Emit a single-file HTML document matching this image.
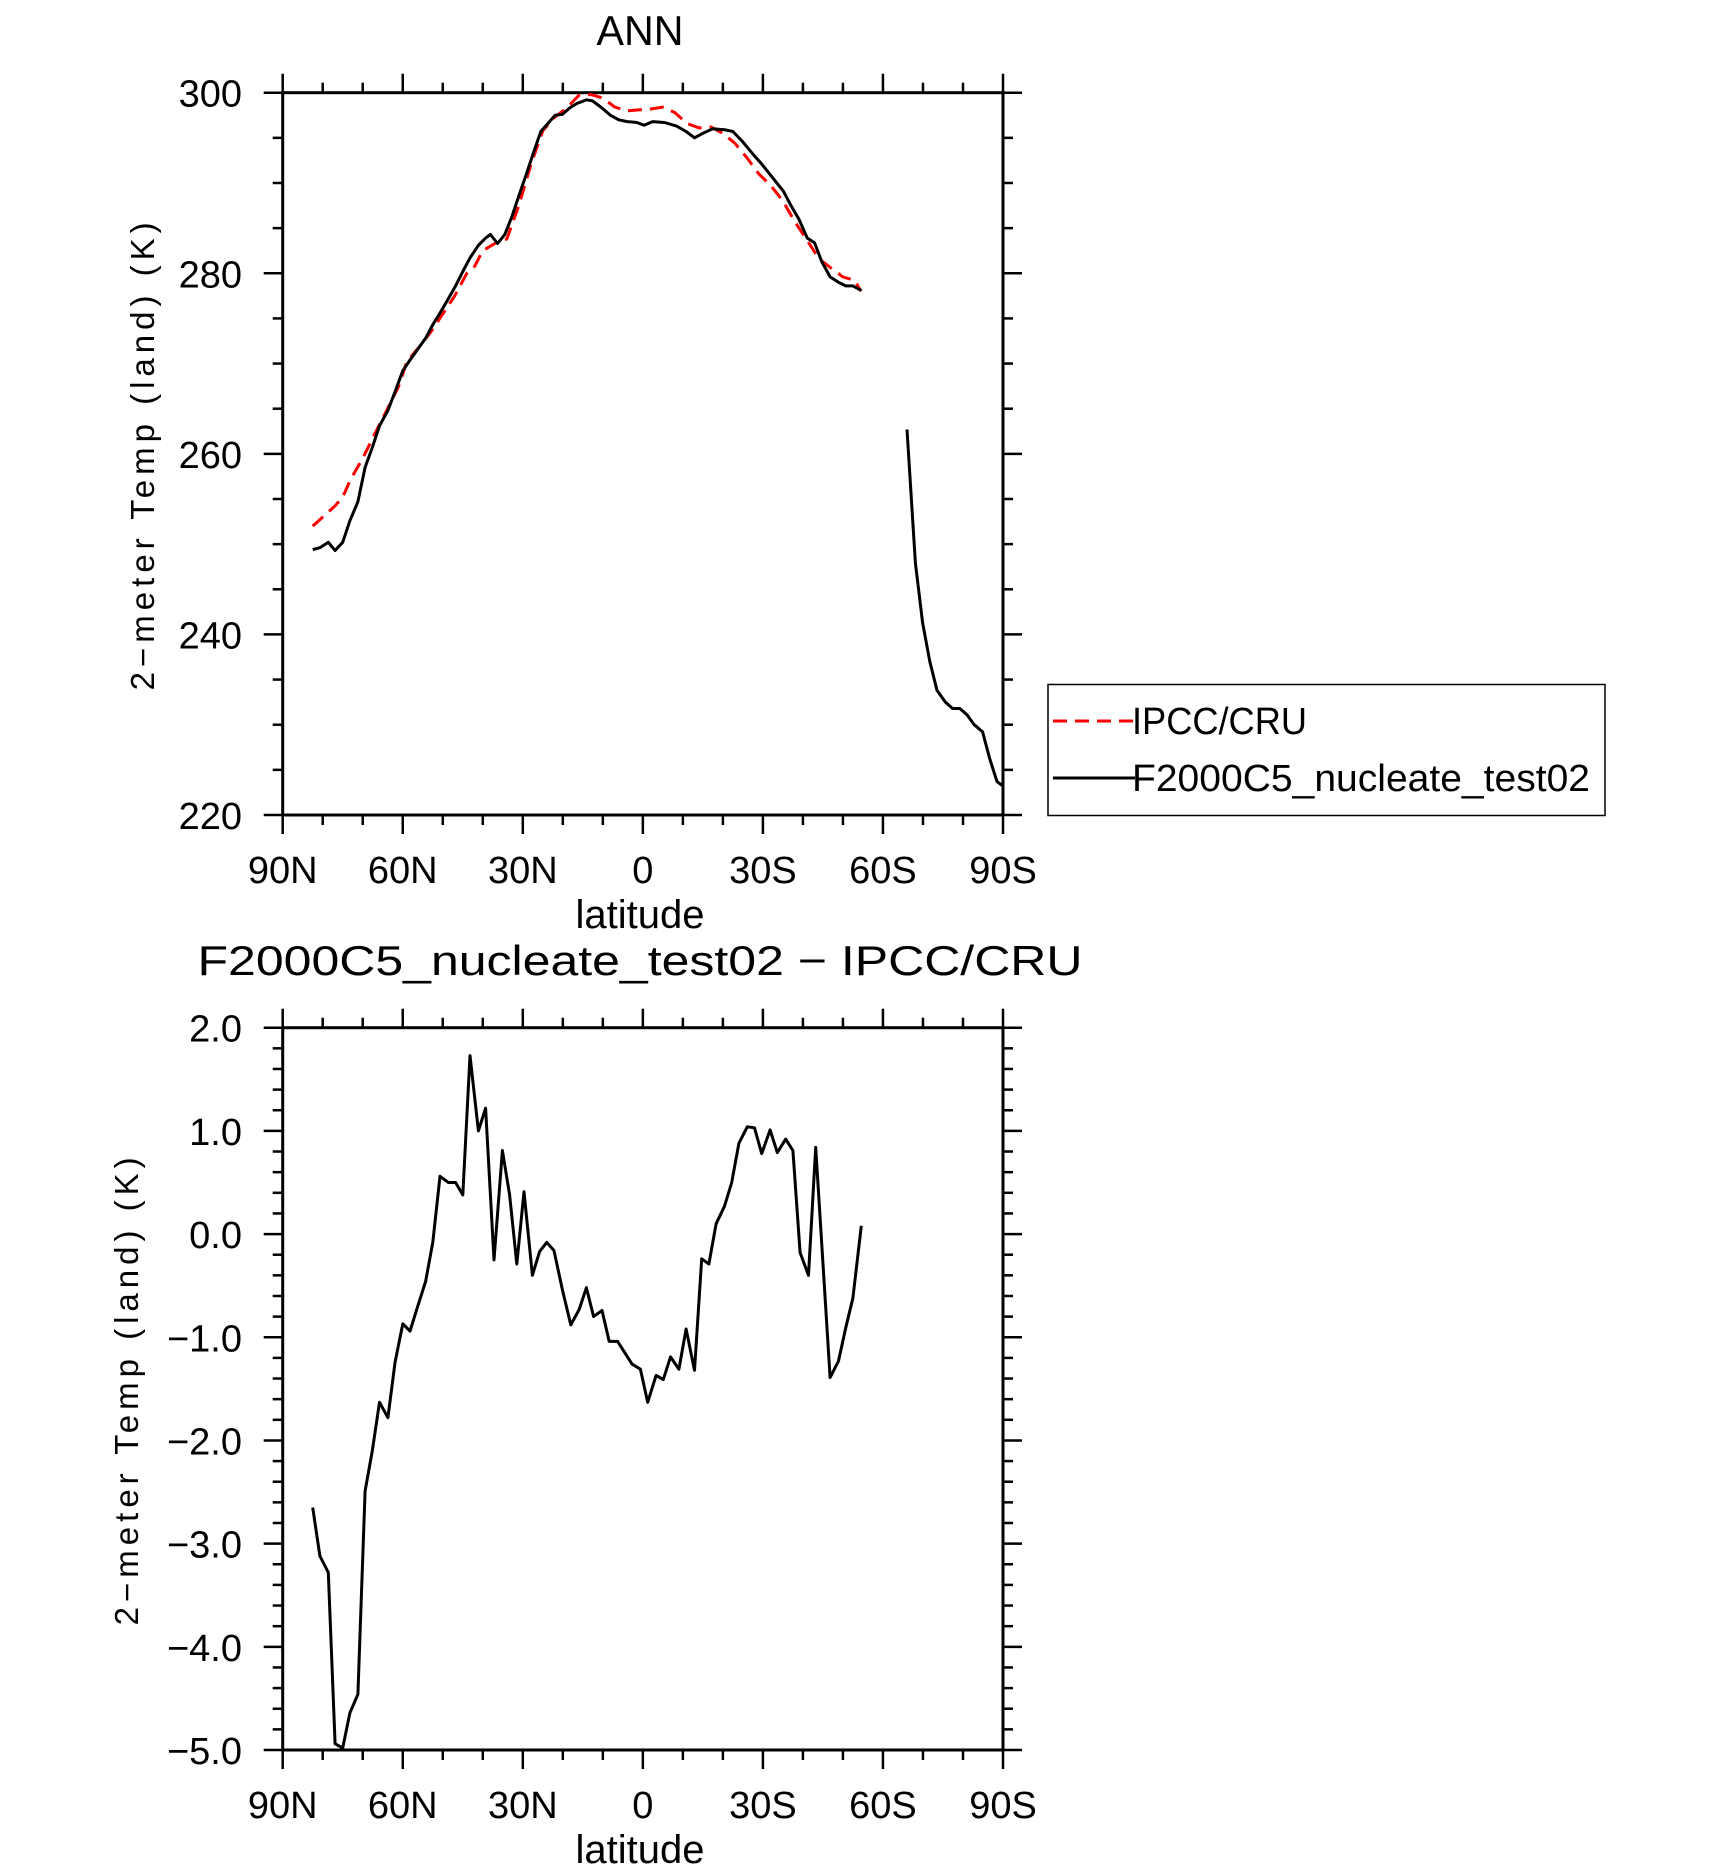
<!DOCTYPE html>
<html><head><meta charset="utf-8"><style>
html,body{margin:0;padding:0;background:#fff;}
svg{display:block;}
text{font-family:"Liberation Sans",sans-serif;fill:#000;}
</style></head><body>
<svg id="chart" width="1710" height="1872" viewBox="0 0 1710 1872" xmlns="http://www.w3.org/2000/svg"></svg>
<script>
// ---- data ----
const modelLat = [82.5,80.7,78.6,76.9,75,73.2,71.2,69.4,67.6,65.8,63.7,61.9,60,58.2,56.1,54.3,52.5,50.7,48.6,46.8,45,43.2,41.1,39.3,38.1,36.3,34.5,32.7,30.9,29.1,27.3,25.5,23.7,21.9,20.1,18.3,16.5,14.1,12.6,10.2,8.1,6,3.9,1.5,-0.3,-2.4,-5.4,-8.4,-10.8,-12.9,-15,-17.4,-20.4,-22.5,-24.9,-27.3,-29.7,-32.4,-35.1,-36.9,-39,-41.1,-42.9,-44.7,-46.8,-48.9,-50.7,-52.5,-54.6];
const modelVal = [249.4,249.6,250.2,249.3,250.2,252.6,254.7,258.5,260.7,263.1,264.8,266.9,269.2,270.4,271.7,272.8,274.3,275.6,277.2,278.6,280.2,281.7,283.1,283.9,284.3,283.3,284.3,286.3,288.7,291.0,293.4,295.7,296.6,297.5,297.6,298.3,298.8,299.2,299.1,298.3,297.5,297.0,296.8,296.7,296.4,296.8,296.7,296.3,295.7,295.0,295.5,296.0,295.9,295.7,294.6,293.3,292.1,290.6,289.1,287.6,286.0,283.9,283.4,281.3,279.6,279.0,278.6,278.6,278.1];
const antLat = [-66,-68.1,-69.9,-71.7,-73.5,-75.6,-77.4,-79.2,-81,-82.8,-84.9,-86.7,-88.5,-90];
const antVal = [262.7,247.9,241.3,237.0,233.8,232.5,231.8,231.8,231.1,230.0,229.2,226.2,223.7,223.2];
const obsLat = [82.5,80,77,75,73,70,67,64,61,59,56,53,50,47,44,42,40,37,34,31,28,25,22,19,16,13,10,7,4,1,-2,-5,-8,-11,-14,-17,-20,-23,-26,-29,-32,-35,-38,-41,-44,-47,-50,-53,-54.5];
const obsVal = [252.0,253.0,254.2,255.2,257.2,259.5,262.2,264.8,267.5,270.2,271.8,273.5,275.5,277.5,280.0,280.8,282.5,283.3,283.8,287.5,292.0,295.8,297.3,298.3,299.7,299.8,299.4,298.4,298.0,298.1,298.2,298.4,297.8,296.6,296.1,296.2,295.5,294.4,292.8,291.0,289.7,288.0,285.7,283.7,281.6,280.6,279.6,279.2,278.0];
const diffLat = [82.5,80.7,78.6,76.9,75,73.2,71.2,69.4,67.6,65.8,63.7,61.9,60,58.2,56.1,54.3,52.5,50.7,48.6,46.8,45,43.2,41.1,39.3,37.2,35.1,33.3,31.5,29.7,27.6,25.8,24,22.2,20.1,18,15.9,14.1,12.3,10.2,8.4,6.3,4.5,2.7,0.6,-1.2,-3.3,-5.1,-6.9,-9,-10.8,-12.9,-14.7,-16.5,-18.3,-20.4,-22.2,-24,-26.1,-27.9,-29.7,-31.8,-33.6,-35.7,-37.5,-39.3,-41.4,-43.2,-46.8,-48.9,-50.7,-52.5,-54.6];
const diffVal = [-2.65,-3.12,-3.28,-4.94,-4.98,-4.64,-4.46,-2.49,-2.10,-1.63,-1.78,-1.24,-0.87,-0.94,-0.68,-0.46,-0.08,0.56,0.50,0.50,0.38,1.73,1.00,1.22,-0.25,0.81,0.38,-0.29,0.41,-0.40,-0.17,-0.08,-0.16,-0.54,-0.88,-0.73,-0.52,-0.80,-0.74,-1.04,-1.04,-1.15,-1.26,-1.31,-1.63,-1.37,-1.41,-1.19,-1.31,-0.92,-1.32,-0.24,-0.29,0.10,0.27,0.50,0.88,1.04,1.03,0.78,1.01,0.79,0.92,0.81,-0.18,-0.40,0.84,-1.39,-1.23,-0.91,-0.62,0.08];
const xTickVals = [90,60,30,0,-30,-60,-90];
const xTickLabels = ["90N","60N","30N","0","30S","60S","90S"];
const topYTicks = [220,240,260,280,300];
const topYLabels = ["220","240","260","280","300"];
const botYTicks = [-5,-4,-3,-2,-1,0,1,2];
const botYLabels = ["\u22125.0","\u22124.0","\u22123.0","\u22122.0","\u22121.0","0.0","1.0","2.0"];

{
const NS="http://www.w3.org/2000/svg";
const svg=document.getElementById('chart');
function mk(tag,attrs,parent){const e=document.createElementNS(NS,tag);for(const k in attrs)e.setAttribute(k,attrs[k]);(parent||svg).appendChild(e);return e;}

const PL=282.7,PR=1003;
function xs(lat){return PL+(90-lat)/180*(PR-PL);}

function drawPanel(name,T,B,ymin,ymax,yTicks,yLabels,minorStep,title,titleY,titleLen,yTitleX){
  const g=mk('g',{});
  
  
  const ys=v=>B-(v-ymin)/(ymax-ymin)*(B-T);
  for(let lat=90;lat>=-90;lat-=10){
    const x=xs(lat);const major=(lat%30===0);const len=major?19:10;
    const t1=mk('line',{x1:x,y1:B,x2:x,y2:B+len,stroke:'#000','stroke-width':2.5},g);
    
    
    const t2=mk('line',{x1:x,y1:T,x2:x,y2:T-len,stroke:'#000','stroke-width':2.5},g);
    
    
  }
  const nMinor=Math.round((ymax-ymin)/minorStep);
  for(let i=0;i<=nMinor;i++){
    const v=ymin+i*minorStep;const y=ys(v);
    const major=yTicks.some(t=>Math.abs(t-v)<1e-6);const len=major?19:10;
    const t1=mk('line',{x1:PL,y1:y,x2:PL-len,y2:y,stroke:'#000','stroke-width':2.5},g);
    
    
    const t2=mk('line',{x1:PR,y1:y,x2:PR+len,y2:y,stroke:'#000','stroke-width':2.5},g);
    
    
  }
  const fr=mk('rect',{x:PL,y:T,width:PR-PL,height:B-T,fill:'none',stroke:'#000','stroke-width':3},g);
  
  
  yTicks.forEach((v,i)=>{
    const t=mk('text',{x:242,y:ys(v)+14,'text-anchor':'end','font-size':38},g);
    t.textContent=yLabels[i];
    
    
  });
  xTickVals.forEach((v,i)=>{
    const t=mk('text',{x:xs(v),y:B+68,'text-anchor':'middle','font-size':38},g);
    t.textContent=xTickLabels[i];
    
    
  });
  const xl=mk('text',{x:640,y:B+113,'text-anchor':'middle','font-size':40},g);
  xl.textContent='latitude';
  
  
  const cy=(T+B)/2;
  const yl=mk('text',{x:yTitleX,y:cy,'text-anchor':'middle','font-size':33,'letter-spacing':5,transform:`rotate(-90 ${yTitleX} ${cy})`},g);
  yl.textContent='2\u2212meter Temp (land) (K)';
  
  
  const tt=mk('text',{x:640,y:titleY,'text-anchor':'middle','font-size':42,textLength:titleLen,lengthAdjust:'spacingAndGlyphs'},g);
  tt.textContent=title;
  
  
  return {g,ys};
}
function drawLine(g,lats,vals,ys,color,dash,name){
  const d=lats.map((la,i)=>(i?'L':'M')+xs(la).toFixed(1)+','+ys(vals[i]).toFixed(1)).join(' ');
  const p=mk('path',{d:d,fill:'none',stroke:color,'stroke-width':3,'stroke-linejoin':'round'},g);
  if(dash)p.setAttribute('stroke-dasharray',dash);
  
  
}

const topPanel=drawPanel('top-panel',92.7,815,220,300,topYTicks,topYLabels,5,'ANN',45,87,154);
drawLine(topPanel.g,obsLat,obsVal,topPanel.ys,'#ff0000','14 8','obs-line-ipcc-cru');
drawLine(topPanel.g,modelLat,modelVal,topPanel.ys,'#000','','model-line');
drawLine(topPanel.g,antLat,antVal,topPanel.ys,'#000','','model-line-antarctic');

const botPanel=drawPanel('bottom-panel',1027.7,1750,-5,2,botYTicks,botYLabels,0.2,'F2000C5_nucleate_test02 \u2212 IPCC/CRU',975,885,138);
drawLine(botPanel.g,diffLat,diffVal,botPanel.ys,'#000','','difference-line');

const lg=mk('g',{});


const lb=mk('rect',{x:1048,y:684.5,width:557,height:131,fill:'#fff',stroke:'#000','stroke-width':1.5},lg);


const l1=mk('line',{x1:1053,y1:721,x2:1135,y2:721,stroke:'#ff0000','stroke-width':3,'stroke-dasharray':'14 8'},lg);


const t1=mk('text',{x:1132,y:734,'font-size':38,textLength:175,lengthAdjust:'spacingAndGlyphs'},lg);
t1.textContent='IPCC/CRU';


const l2=mk('line',{x1:1053,y1:778,x2:1135,y2:778,stroke:'#000','stroke-width':3},lg);


const t2=mk('text',{x:1132,y:791,'font-size':38,textLength:458,lengthAdjust:'spacingAndGlyphs'},lg);
t2.textContent='F2000C5_nucleate_test02';


}
</script>
</body></html>
